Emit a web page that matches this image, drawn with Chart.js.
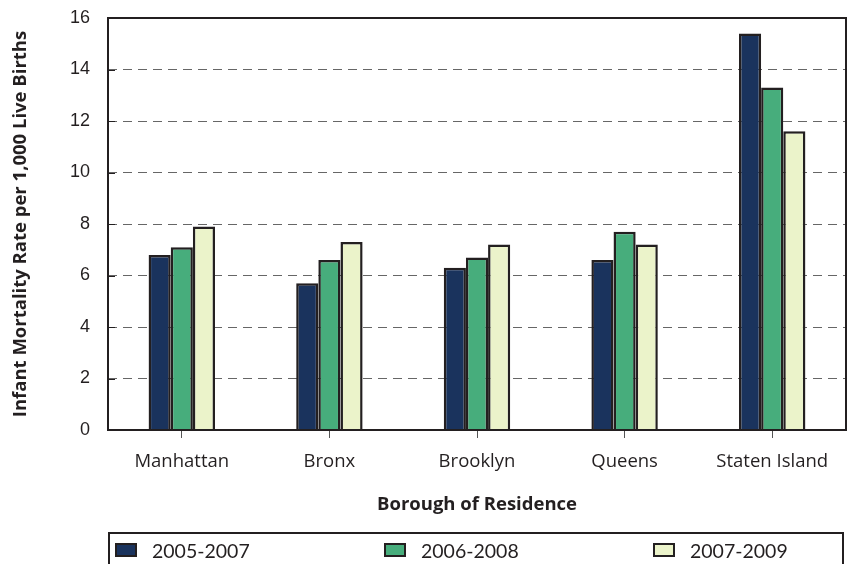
<!DOCTYPE html>
<html>
<head>
<meta charset="utf-8">
<script src="https://cdn.jsdelivr.net/npm/chart.js@4.4.0/dist/chart.umd.min.js"></script>
<style>
  body { margin: 0; background: #fff; }
  #wrap { position: relative; width: 851px; height: 564px; }
  #legend {
    position: absolute; left: 108px; top: 532px; width: 736px; height: 40px;
    border: 2px solid #231f20; box-sizing: border-box;
    font-family: Lato, "Open Sans", sans-serif; font-size: 19.5px; color: #231f20;
  }
  .item { position: absolute; top: 6px; height: 22px; line-height: 22px; }
  .sw { position: absolute; top: 3px; left: 0; width: 18px; height: 10px; border: 2px solid #231f20; }
  .item span { position: absolute; left: 37px; white-space: nowrap; }
</style>
</head>
<body>
<div id="wrap">
  <canvas id="chart" width="851" height="564"></canvas>
  <div id="legend"></div>
</div>
<script>
const boroughs = ["Manhattan", "Bronx", "Brooklyn", "Queens", "Staten Island"];
const periods = ["2005-2007", "2006-2008", "2007-2009"];
const rates2005 = [6.8, 5.7, 6.3, 6.6, 15.4];
const rates2006 = [7.1, 6.6, 6.7, 7.7, 13.3];
const rates2007 = [7.9, 7.3, 7.2, 7.2, 11.6];
const colors = ["#1a335d", "#47ad7c", "#ebf3ca"];

const ink = "#231f20";

// frame round the plot area plus the small inside ticks on the y axis
const framePlugin = {
  id: "frame",
  afterDatasetsDraw(chart) {
    const { ctx, chartArea: a, scales } = chart;
    ctx.save();
    ctx.strokeStyle = ink;
    ctx.lineWidth = 2;
    ctx.strokeRect(a.left, a.top, a.right - a.left, a.bottom - a.top);
    ctx.lineWidth = 1;
    scales.y.ticks.forEach((t) => {
      const y = Math.round(scales.y.getPixelForValue(t.value)) + 0.5;
      ctx.beginPath();
      ctx.moveTo(a.left, y);
      ctx.lineTo(a.left + 7, y);
      ctx.stroke();
    });
    ctx.restore();
  },
};

const datasets = [rates2005, rates2006, rates2007].map((vals, i) => ({
  label: periods[i],
  data: vals,
  backgroundColor: colors[i],
  borderColor: ink,
  borderWidth: 2.5,
  borderSkipped: "bottom",
  categoryPercentage: 0.45,
  barPercentage: 1,
}));

new Chart(document.getElementById("chart"), {
  type: "bar",
  data: { labels: boroughs, datasets },
  plugins: [framePlugin],
  options: {
    responsive: false,
    animation: false,
    layout: { padding: { top: 18, right: 5, left: 0, bottom: 0 } },
    plugins: { legend: { display: false }, tooltip: { enabled: false } },
    scales: {
      x: {
        afterFit(scale) { scale.height = 134; },
        grid: { display: true, drawOnChartArea: false, offset: false, tickLength: 8, color: "#555", lineWidth: 1 },
        border: { display: false },
        ticks: { color: ink, padding: 13, font: { family: "Open Sans", size: 18.5 } },
        title: {
          display: true,
          text: "Borough of Residence",
          color: ink,
          font: { family: "Open Sans", size: 18.5, weight: "bold" },
          padding: { top: 0, bottom: 48 },
        },
      },
      y: {
        min: 0,
        max: 16,
        afterFit(scale) { scale.width = 108; },
        ticks: { stepSize: 2, color: ink, padding: 3, font: { family: "Liberation Sans", size: 18 } },
        grid: {
          drawTicks: true,
          tickLength: 15,
          tickColor: "rgba(0,0,0,0)",
          color: (c) => (c.tick.value === 0 || c.tick.value === 16 ? "rgba(0,0,0,0)" : "#666"),
          lineWidth: 1,
        },
        border: { display: false, dash: [9, 6] },
        title: {
          display: true,
          text: "Infant Mortality Rate per 1,000 Live Births",
          color: ink,
          font: { family: "Open Sans", size: 18.5, weight: "bold" },
          padding: { top: 10, bottom: 0 },
        },
      },
    },
  },
});

// legend in a framed row under the chart
const legend = document.getElementById("legend");
const itemLeft = [5, 274, 543];
periods.forEach((p, i) => {
  const item = document.createElement("div");
  item.className = "item";
  item.style.left = itemLeft[i] + "px";
  item.innerHTML = '<div class="sw" style="background:' + colors[i] + '"></div><span>' + p + "</span>";
  legend.appendChild(item);
});
</script>
</body>
</html>
